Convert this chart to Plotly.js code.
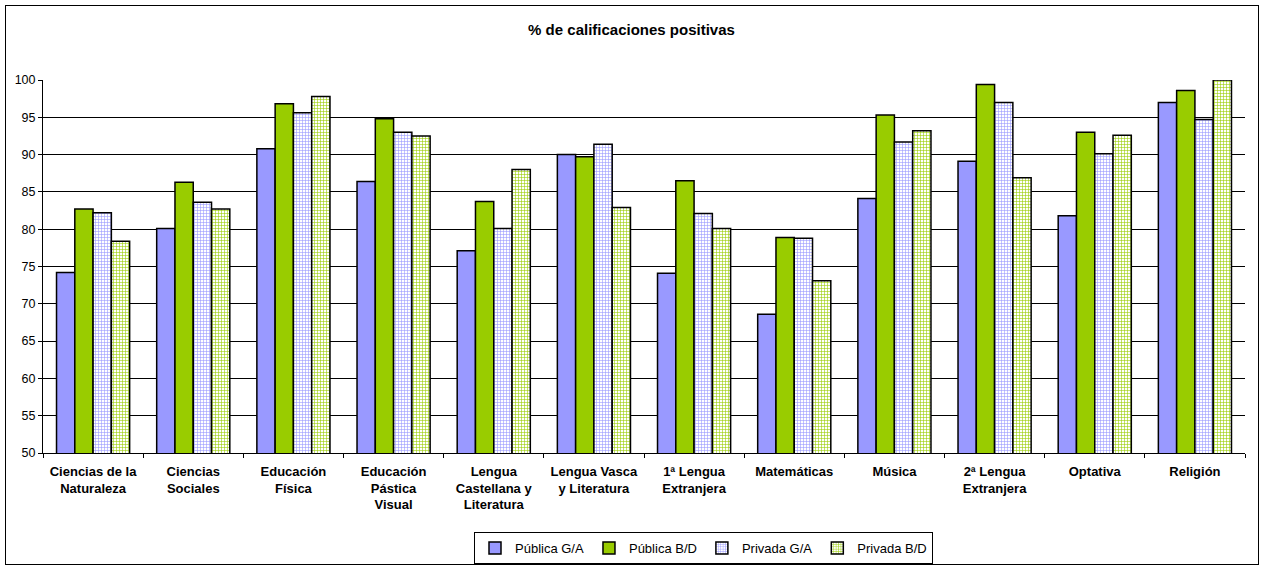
<!DOCTYPE html>
<html>
<head>
<meta charset="utf-8">
<script src="https://cdn.plot.ly/plotly-3.0.1.min.js"></script>
<style>
html,body{margin:0;padding:0;background:#fff;}
#wrap{position:relative;width:1263px;height:567px;}
#chart{width:1263px;height:567px;}
#frame{position:absolute;left:5px;top:5px;width:1252px;height:558px;border:1px solid #000;pointer-events:none;}
</style>
</head>
<body>
<div id="wrap"><div id="chart"></div><div id="frame"></div></div>
<script>
const categories = [
  "Ciencias de la<br>Naturaleza",
  "Ciencias<br>Sociales",
  "Educación<br>Física",
  "Educación<br>Pástica<br>Visual",
  "Lengua<br>Castellana y<br>Literatura",
  "Lengua Vasca<br>y Literatura",
  "1ª Lengua<br>Extranjera",
  "Matemáticas",
  "Música",
  "2ª Lengua<br>Extranjera",
  "Optativa",
  "Religión"
];
const seriesNames = ["Pública G/A", "Pública B/D", "Privada G/A", "Privada B/D"];
const publicaGA  = [74.2, 80.1, 90.8, 86.4, 77.1, 90.0, 74.1, 68.6, 84.1, 89.1, 81.8, 97.0];
const publicaBD  = [82.7, 86.3, 96.8, 94.8, 83.7, 89.7, 86.5, 78.9, 95.3, 99.4, 93.0, 98.6];
const privadaGA  = [82.2, 83.6, 95.6, 93.0, 80.1, 91.4, 82.1, 78.8, 91.7, 97.0, 90.1, 94.7];
const privadaBD  = [78.4, 82.7, 97.8, 92.5, 88.0, 82.9, 80.1, 73.1, 93.2, 86.9, 92.6, 100.0];
const yTicks = [50, 55, 60, 65, 70, 75, 80, 85, 90, 95, 100];

const FONT = "Liberation Sans, Arial, sans-serif";
const blue = "#9999FF", green = "#99CC00";
const line = {color: "#000", width: 1.5};
const traces = [
  {name: seriesNames[0], y: publicaGA, marker: {color: blue, line: line}},
  {name: seriesNames[1], y: publicaBD, marker: {color: green, line: line}},
  {name: seriesNames[2], y: privadaGA, marker: {color: "#fff", line: line,
     pattern: {shape: "+", fgcolor: blue, bgcolor: "#fff", size: 3, solidity: 0.35}}},
  {name: seriesNames[3], y: privadaBD, marker: {color: "#fff", line: line,
     pattern: {shape: "+", fgcolor: green, bgcolor: "#fff", size: 3, solidity: 0.35}}}
].map(t => Object.assign({type: "bar", x: categories, hoverinfo: "x+y"}, t));

const layout = {
  width: 1263, height: 567,
  margin: {l: 43, r: 18, t: 80, b: 114, autoexpand: false},
  paper_bgcolor: "#fff", plot_bgcolor: "#fff",
  font: {family: FONT, color: "#000", size: 12},
  title: {text: "<b>% de calificaciones positivas</b>", x: 0.5, xref: "container",
          y: 1 - 30/567, yref: "container", yanchor: "middle",
          font: {size: 15, family: FONT, color: "#000"}},
  barmode: "group", bargap: 0.27, bargroupgap: 0,
  xaxis: {type: "category", showline: true, linecolor: "#000", linewidth: 1,
          ticks: "outside", tickson: "boundaries", ticklen: 4, tickcolor: "#000",
          ticklabelstandoff: 6,
          tickfont: {size: 13, family: FONT, weight: "bold"}, tickangle: 0,
          showgrid: false, fixedrange: true, automargin: false},
  yaxis: {range: [50, 100], tickvals: yTicks, showline: true, linecolor: "#000", linewidth: 1,
          ticks: "outside", ticklen: 4, tickcolor: "#000",
          showgrid: true, gridcolor: "#000", gridwidth: 1, zeroline: false,
          tickfont: {size: 12.5}, fixedrange: true, automargin: false},
  showlegend: true,
  legend: {orientation: "h", x: (703.5 - 43) / 1202, xanchor: "center",
           y: (453 - 532) / 373, yanchor: "top",
           bordercolor: "#000", borderwidth: 1, bgcolor: "#fff",
           font: {size: 13}, tracegroupgap: 0}
};
Plotly.newPlot("chart", traces, layout, {displayModeBar: false, staticPlot: true});
</script>
</body>
</html>
